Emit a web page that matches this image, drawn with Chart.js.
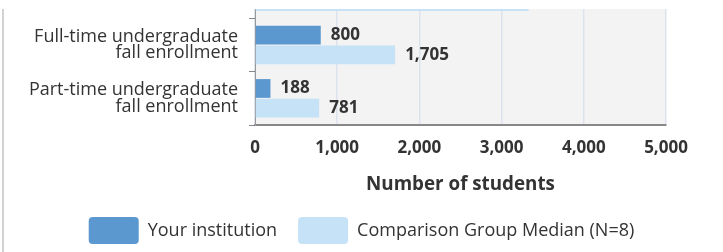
<!DOCTYPE html>
<html>
<head>
<meta charset="utf-8">
<script src="https://cdn.jsdelivr.net/npm/chart.js@4.4.1/dist/chart.umd.min.js"></script>
<style>
  html, body { margin: 0; padding: 0; background: #fff; }
  body { width: 723px; height: 252px; overflow: hidden; position: relative; }
  #leftRule { position: absolute; left: 2px; top: 9px; width: 2px; height: 243px; background: #d2d2d2; }
  #frame { position: absolute; left: 0; top: 9px; width: 723px; height: 243px; overflow: hidden; }
  #chartBox { position: absolute; left: 0; top: -44px; width: 723px; height: 289px; }
</style>
</head>
<body>
<div id="frame"><div id="chartBox"><canvas id="enrollChart"></canvas></div></div>
<div id="leftRule"></div>
<script>
  // data (top row is cut off by the crop)
  const categories = [
    '',
    ['Full-time undergraduate', 'fall enrollment'],
    ['Part-time undergraduate', 'fall enrollment']
  ];
  const yourInstitution = [null, 800, 188];
  const comparisonMedian = [3330, 1705, 781];
  const xTickValues = [0, 1000, 2000, 3000, 4000, 5000];
  const seriesNames = ['Your institution', 'Comparison Group Median (N=8)'];

  const FONT = '"Open Sans", "Liberation Sans", sans-serif';
  const TEXT = '#333';

  // grey plot background
  const plotBackground = {
    id: 'plotBackground',
    beforeDraw(chart) {
      const { ctx, chartArea: a } = chart;
      ctx.save();
      ctx.fillStyle = '#f3f3f3';
      ctx.fillRect(a.left, a.top, a.right - a.left, a.bottom - a.top);
      ctx.restore();
    }
  };

  // centre the legend on the whole canvas, not just the padded box
  const legendCentre = {
    id: 'legendCentre',
    afterLayout(chart) {
      if (!chart.legend) return;
      chart.legend.left = 0;
      chart.legend.right = chart.width;
      chart.legend.width = chart.width;
    }
  };

  // value labels at the end of each bar
  const barValueLabels = {
    id: 'barValueLabels',
    afterDatasetsDraw(chart) {
      const ctx = chart.ctx;
      ctx.save();
      ctx.font = 'bold 17px ' + FONT;
      ctx.fillStyle = TEXT;
      ctx.textBaseline = 'middle';
      chart.data.datasets.forEach((ds, i) => {
        chart.getDatasetMeta(i).data.forEach((bar, j) => {
          const v = ds.data[j];
          if (v == null) return;
          ctx.fillText(v.toLocaleString('en-US'), bar.x + 10, bar.y);
        });
      });
      ctx.restore();
    }
  };

  new Chart(document.getElementById('enrollChart'), {
    type: 'bar',
    data: {
      labels: categories,
      datasets: [
        {
          label: seriesNames[0],
          data: yourInstitution,
          backgroundColor: '#5b98cf',
          categoryPercentage: 0.74,
          barPercentage: 0.95
        },
        {
          label: seriesNames[1],
          data: comparisonMedian,
          backgroundColor: '#c6e2f6',
          categoryPercentage: 0.74,
          barPercentage: 0.95
        }
      ]
    },
    options: {
      indexAxis: 'y',
      responsive: true,
      maintainAspectRatio: false,
      animation: false,
      layout: { padding: { top: 0, right: 57, bottom: 0, left: 0 } },
      plugins: {
        tooltip: { enabled: false },
        legend: {
          position: 'bottom',
          labels: {
            boxWidth: 50,
            boxHeight: 27,
            padding: 21,
            useBorderRadius: true,
            borderRadius: 4,
            color: TEXT,
            font: { family: FONT, size: 18 }
          }
        }
      },
      scales: {
        x: {
          min: 0,
          max: 5000,
          afterBuildTicks: s => { s.ticks = xTickValues.map(v => ({ value: v })); },
          afterFit: s => { s.height = 71; },
          grid: { color: '#dde3ee', lineWidth: 1.5, drawTicks: false },
          border: { color: '#888', width: 2 },
          ticks: {
            padding: 13,
            color: TEXT,
            font: { family: FONT, size: 17, weight: 'bold' },
            callback: v => v.toLocaleString('en-US')
          },
          title: {
            display: true,
            text: 'Number of students',
            color: TEXT,
            font: { family: FONT, size: 18.8, weight: 'bold' },
            padding: { top: 0, bottom: 0 }
          }
        },
        y: {
          afterFit: s => {
            s.width = 255;
            s.paddingTop = 0;
            s.paddingBottom = 0;
          },
          grid: { drawOnChartArea: false, offset: true, tickLength: 6, color: '#888' },
          border: { color: '#999', width: 1 },
          ticks: {
            autoSkip: false,
            padding: 11,
            color: TEXT,
            font: { family: FONT, size: 18, lineHeight: 0.9 }
          }
        }
      }
    },
    plugins: [plotBackground, legendCentre, barValueLabels]
  });
</script>
</body>
</html>
